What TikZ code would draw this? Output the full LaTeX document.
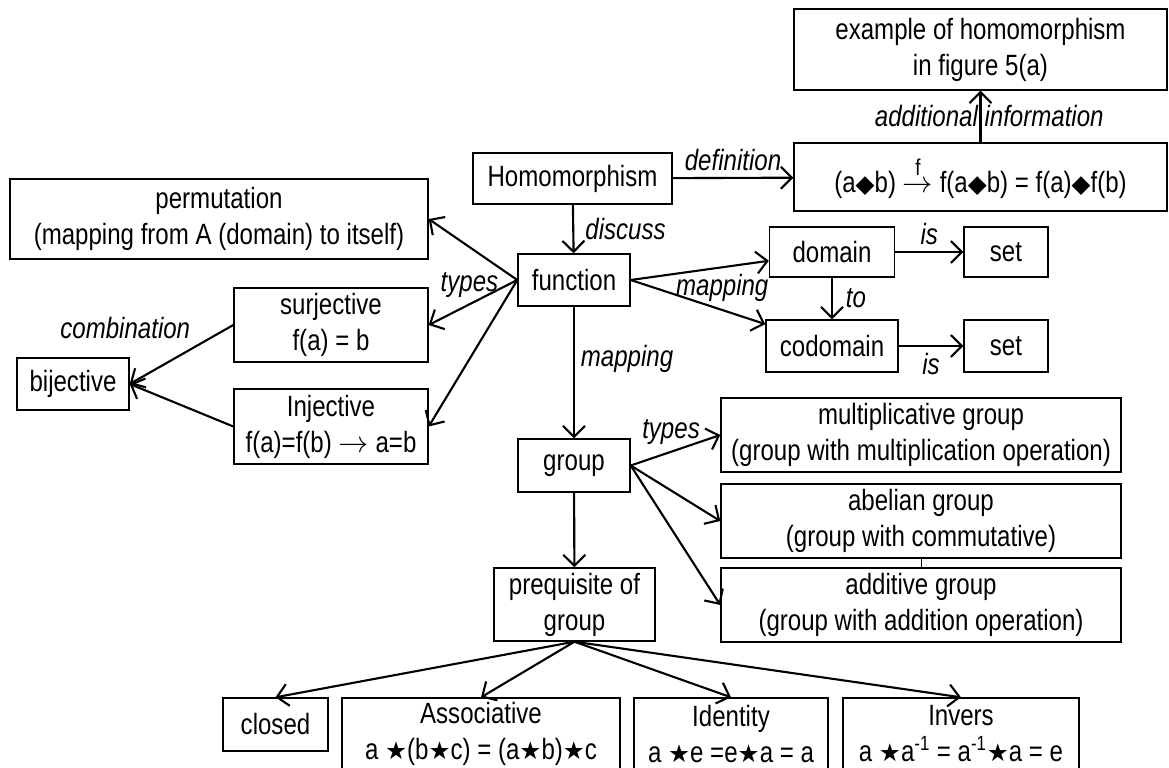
\documentclass[tikz,border=0pt]{standalone}
\usepackage{amsmath}
\usepackage{fontspec}
\setmainfont{Liberation Sans}[FakeStretch=0.82]
\newfontfamily\djvfont{DejaVu Sans}
\usetikzlibrary{arrows.meta}
\newcommand{\dmd}{{\djvfont\fontsize{14pt}{14pt}\selectfont ◆}}
\newcommand{\strop}{{\djvfont\fontsize{14pt}{14pt}\selectfont ★}}
\tikzset{
  box/.style={draw,line width=.8pt,align=center,inner sep=0pt,
    font=\fontsize{16.7pt}{20.5pt}\selectfont},
  wh/.style 2 args={minimum width=#1*0.02cm,minimum height=#2*0.02cm},
  lbl/.style={font=\fontsize{16.7pt}{20.5pt}\selectfont\itshape},
  arr/.style={line width=1.2pt,-{Straight Barb[length=2.2mm,width=4.4mm]}}
}
\begin{document}
\begin{tikzpicture}[x=0.02cm,y=-0.02cm]
  \useasboundingbox (0,0) rectangle (1169,767);
  % boxes
  \node[box,wh={373}{81}] (example) at (980.5,49.5) {example of homomorphism\\in figure 5(a)};
  \node[box,wh={373}{68}] (formula) at (980.5,177)
     {(a\dmd b) $\overset{\mbox{\fontsize{13pt}{13pt}\selectfont f}}{\rightarrow}$ f(a\dmd b) = f(a)\dmd f(b)};
  \node[box,wh={199}{51}] (homo) at (572.5,178.5) {Homomorphism};
  \node[box,wh={112}{52}] (func) at (574,280) {function};
  \node[box,wh={125}{50}] (domain) at (832,252) {domain};
  \node[box,wh={84}{50}] (setone) at (1006,252) {set};
  \node[box,wh={132}{52}] (codomain) at (832,346) {codomain};
  \node[box,wh={84}{52}] (settwo) at (1006,346) {set};
  \node[box,wh={418}{80}] (perm) at (219,219) {permutation\\(mapping from A (domain) to itself)};
  \node[box,wh={194}{74}] (surj) at (331,325) {surjective\\f(a) = b};
  \node[box,wh={194}{75}] (inj) at (331,426.5) {Injective\\f(a)=f(b) $\rightarrow$ a=b};
  \node[box,wh={112}{52}] (bij) at (73,384) {bijective};
  \node[box,wh={112}{53}] (group) at (574,465.5) {group};
  \node[box,wh={400}{74}] (mult) at (921,435) {multiplicative group\\(group with multiplication operation)};
  \node[box,wh={400}{74}] (abel) at (921,521) {abelian group\\(group with commutative)};
  \node[box,wh={400}{74}] (addi) at (921,605) {additive group\\(group with addition operation)};
  \node[box,wh={161}{73}] (prereq) at (574.5,604.5) {prequisite of\\group};
  \node[box,wh={105}{53}] (closed) at (275.5,724.5) {closed};
  \node[box,wh={278}{72}] (assoc) at (481,734) {Associative\\a \strop(b\strop c) = (a\strop b)\strop c};
  \node[box,wh={194}{72}] (ident) at (731,734) {Identity\\a \strop e =e\strop a = a};
  \node[box,wh={236}{72}] (invers) at (961,734)
     {Invers\\a \strop a\textsuperscript{-1} = a\textsuperscript{-1}\strop a = e};
  % connectors
  \draw[arr] (formula) -- node[lbl,xshift=5pt] {additional information} (example);
  \draw[arr] (homo) -- node[lbl,above] {definition} (formula);
  \draw[arr] (homo) -- node[lbl,right=3pt] {discuss} (func);
  \draw[arr] (func.east) -- (domain);
  \draw[arr] (func.east) -- node[lbl,pos=.68,above=1pt] {mapping} (codomain);
  \draw[arr] (domain) -- node[lbl,above] {is} (setone);
  \draw[arr] (codomain) -- node[lbl,below] {is} (settwo);
  \draw[arr] (domain) -- node[lbl,right=4pt] {to} (codomain);
  \draw[arr] (func.west) -- (perm.east);
  \draw[arr] (func.west) -- node[lbl,pos=.54,above] {types} (surj.east);
  \draw[arr] (func.west) -- (inj.east);
  \draw[arr] (surj.west) -- node[lbl,pos=.35,above left] {combination} (bij.east);
  \draw[arr] (inj.west) -- (bij.east);
  \draw[arr] (func) -- node[lbl,pos=.4,right] {mapping} (group);
  \draw[arr] (group.east) -- node[lbl,pos=.45,above] {types} (mult.west);
  \foreach \n in {abel,addi}
    \draw[arr] (group.east) -- (\n.west);
  \draw[line width=.3pt] (abel) -- (addi);
  \draw[arr] (group) -- (prereq);
  \foreach \n in {closed,assoc,ident,invers}
    \draw[arr] (prereq.south) -- (\n.north);
\end{tikzpicture}
\end{document}
